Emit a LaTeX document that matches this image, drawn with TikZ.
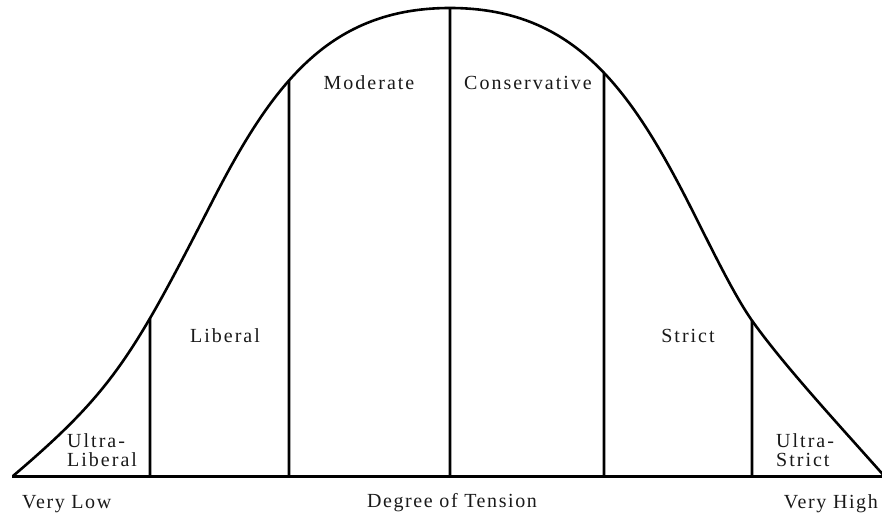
\documentclass[tikz,border=0pt]{standalone}
\usepackage{fontspec}
\setmainfont{Liberation Serif}
\newfontfamily\lblfont[LetterSpace=10]{Liberation Serif}
\newfontfamily\axfont[LetterSpace=8]{Liberation Serif}
\usetikzlibrary{intersections}
\begin{document}
\begin{tikzpicture}[x=1pt,y=-1pt,
  curveline/.style={line width=2.6pt, black, line join=round},
  divider/.style={line width=2.6pt, black},
  baseln/.style={line width=3pt, black},
  lbl/.style={font=\lblfont\fontsize{20}{19}\selectfont, text=black!90, inner sep=0pt},
  axlbl/.style={font=\axfont\fontsize{20}{19}\selectfont, text=black!90, inner sep=0pt}]
\useasboundingbox (0,0) rectangle (882,513);
% bell curve
\coordinate (c0) at (13,476);
\coordinate (c1) at (213,200);
\coordinate (c2) at (450,8);
\coordinate (c3) at (687,200);
\coordinate (c4) at (753,322);
\coordinate (c5) at (886,478);
\draw[curveline, name path=bell] (c0)
  .. controls (113,391) and (133,356) .. (c1)
  .. controls (273,83) and (330,8) .. (c2)
  .. controls (570,8) and (627,83) .. (c3)
  .. controls (709,243) and (733,294) .. (c4)
  .. controls (786,368) and (840,426) .. (c5);
% baseline
\coordinate (bl) at (12,476);
\coordinate (br) at (882,476);
\draw[baseln] (bl) -- (br);
% dividers
\foreach \n/\x in {a/150, b/289, c/450, d/604, e/752}{
  \coordinate (\n0) at (\x,476);
  \path[name path=v\n] (\x,480) -- (\x,0);
  \path[name intersections={of=bell and v\n, by={\n1}}];
  \draw[divider] (\n0) -- (\n1);
}
% labels
\node[lbl, anchor=north west, align=left] (ulib) at (67,433.3) {Ultra-\\Liberal};
\node[lbl, anchor=north west, align=left] (ustr) at (776,433.3) {Ultra-\\Strict};
\node[lbl, anchor=base] (lib) at (225,342) {Liberal};
\node[lbl, anchor=base] (str) at (688,342) {Strict};
\node[lbl, anchor=base] (mod) at (369,90) {Moderate};
\node[lbl, anchor=base] (con) at (528,90) {Conservative};
\node[axlbl, anchor=base west] (vlow) at (22,508) {Very Low};
\node[axlbl, anchor=base east] (vhigh) at (878,508) {Very High};
\node[axlbl, anchor=base] (deg) at (452,507) {Degree of Tension};
\end{tikzpicture}
\end{document}
